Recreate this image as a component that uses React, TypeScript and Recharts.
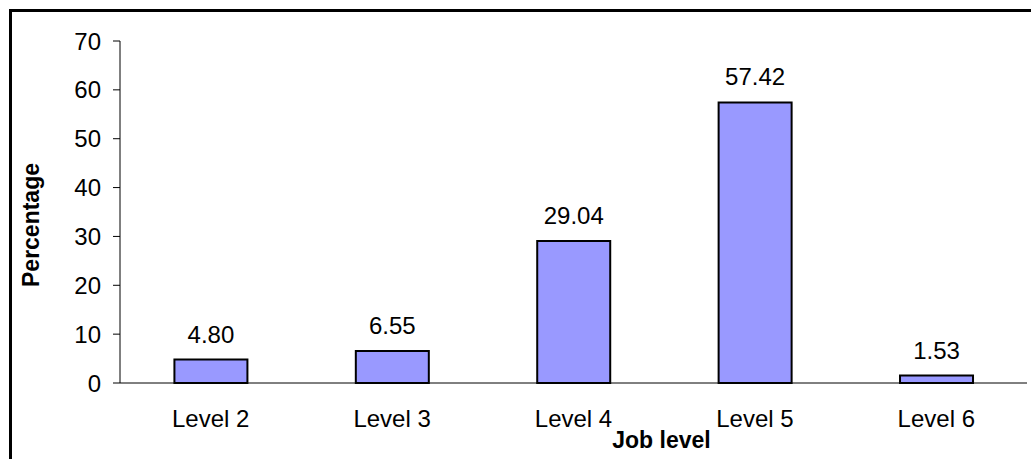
import React from 'react';
import { BarChart, Bar, XAxis, YAxis, LabelList, Label } from 'recharts';

const levels = ['Level 2', 'Level 3', 'Level 4', 'Level 5', 'Level 6'];
const percentages = [4.8, 6.55, 29.04, 57.42, 1.53];
const yTicks = [0, 10, 20, 30, 40, 50, 60, 70];
const edgeTicks = [0, 1, 2, 3, 4, 5];

const data = levels.map((name, i) => ({ name, value: percentages[i] }));

const font = '"Liberation Sans", Arial, sans-serif';

export default function App() {
  return (
    <div style={{ position: 'absolute', left: 0, top: 0, width: 1031, height: 459, overflow: 'hidden', background: '#fff', fontFamily: font }}>
      {/* frame around the chart, right and bottom run off the picture */}
      <div style={{ position: 'absolute', left: 9, top: 9, width: 1100, height: 500, border: '3px solid #000' }} />
      <div style={{ position: 'absolute', left: 0, top: 0 }}>
        <BarChart
          width={1031}
          height={459}
          data={data}
          margin={{ top: 41, right: 4, left: 0, bottom: 6 }}
          barCategoryGap="30%"
        >
          <XAxis
            xAxisId="edge"
            type="number"
            domain={[0, 5]}
            ticks={edgeTicks}
            tick={false}
            tickSize={8}
            axisLine={false}
            tickLine={{ stroke: '#000' }}
            height={0}
          />
          <XAxis
            dataKey="name"
            tickLine={false}
            tickSize={0}
            tickMargin={27}
            axisLine={{ stroke: '#000' }}
            height={70}
            tick={{ fill: '#000', fontSize: 24, fontFamily: font }}
          >
            <Label
              value="Job level"
              position="insideBottom"
              offset={5}
              dx={88}
              style={{ fill: '#000', fontSize: 23, fontWeight: 'bold', fontFamily: font }}
            />
          </XAxis>
          <YAxis
            width={120}
            domain={[0, 70]}
            ticks={yTicks}
            interval={0}
            tickSize={7}
            tickMargin={12}
            axisLine={{ stroke: '#000' }}
            tickLine={{ stroke: '#000' }}
            tick={{ fill: '#000', fontSize: 24, fontFamily: font }}
          >
            <Label
              value="Percentage"
              angle={-90}
              position="center"
              dx={-29}
              dy={13}
              style={{ fill: '#000', fontSize: 23, fontWeight: 'bold', fontFamily: font, textAnchor: 'middle' }}
            />
          </YAxis>
          <Bar dataKey="value" fill="#9999FF" stroke="#000" strokeWidth={2} isAnimationActive={false}>
            <LabelList
              dataKey="value"
              position="top"
              offset={17}
              formatter={(v: any) => Number(v).toFixed(2)}
              style={{ fill: '#000', fontSize: 24, fontFamily: font }}
            />
          </Bar>
        </BarChart>
      </div>
    </div>
  );
}
